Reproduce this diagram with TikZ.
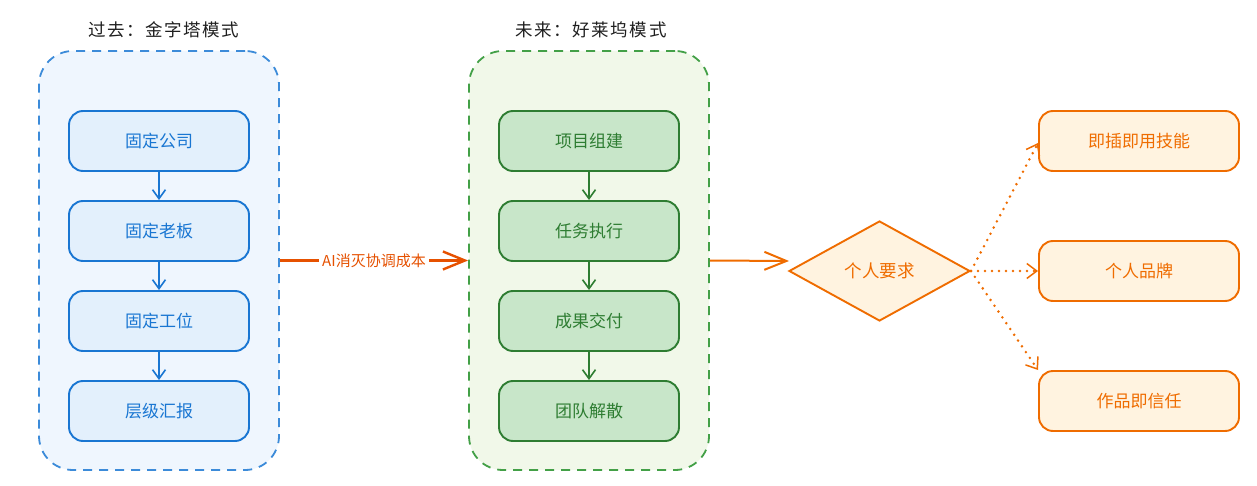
\documentclass[tikz,border=0pt]{standalone}
\usepackage{fontspec}
\setmainfont{Noto Sans CJK SC}
\newfontfamily\titlefont{Noto Sans CJK SC}[LetterSpace=9]
\usetikzlibrary{arrows.meta,shapes.geometric}
\definecolor{oldline}{HTML}{1976D2}
\definecolor{oldfill}{HTML}{E3F0FC}
\definecolor{oldback}{HTML}{EFF6FE}
\definecolor{newline}{HTML}{2E7D32}
\definecolor{newfill}{HTML}{C8E6C9}
\definecolor{newback}{HTML}{F1F8E9}
\definecolor{newdash}{HTML}{43A047}
\definecolor{selfline}{HTML}{EF6C00}
\definecolor{selffill}{HTML}{FFF3E0}
\definecolor{costline}{HTML}{E65100}
\tikzset{
  box/.style={rounded corners=14pt, line width=1.9pt, inner sep=0pt,
    minimum width=180pt, minimum height=60pt, font=\fontsize{17}{19}\selectfont},
  oldbox/.style={box, draw=oldline, fill=oldfill, text=oldline},
  newbox/.style={box, draw=newline, fill=newfill, text=newline},
  selfbox/.style={box, draw=selfline, fill=selffill, text=selfline, minimum width=200pt},
  frame/.style={rounded corners=34pt, line width=1.8pt, dash pattern=on 9pt off 7pt,
    minimum width=240pt, minimum height=419pt, inner sep=0pt},
  heading/.style={font=\titlefont\fontsize{17.5}{20}\selectfont, text=black!88},
  flow/.style={line width=1.6pt, -{Straight Barb[length=9pt,width=13pt]}},
  pick/.style={line width=2.8pt, selfline, line cap=round, dash pattern=on 0pt off 7pt,
    -{Straight Barb[length=10pt,width=15pt,line width=1.5pt]}}
}
\begin{document}
\begin{tikzpicture}[x=1pt,y=-1pt]
\useasboundingbox (0,0) rectangle (1257,486);
% containers
\node[frame, draw=oldline!85, fill=oldback] (past) at (159,260.5) {};
\node[frame, draw=newdash, fill=newback] (future) at (589,260.5) {};
\node[heading] (pasttitle) at (164,30) {过去：金字塔模式};
\node[heading] (futuretitle) at (591,30) {未来：好莱坞模式};
% past chain
\node[oldbox] (o1) at (159,141) {固定公司};
\node[oldbox] (o2) at (159,231) {固定老板};
\node[oldbox] (o3) at (159,321) {固定工位};
\node[oldbox] (o4) at (159,411) {层级汇报};
\path[draw, flow, oldline] (o1)--(o2);
\path[draw, flow, oldline] (o2)--(o3);
\path[draw, flow, oldline] (o3)--(o4);
% future chain
\node[newbox] (n1) at (589,141) {项目组建};
\node[newbox] (n2) at (589,231) {任务执行};
\node[newbox] (n3) at (589,321) {成果交付};
\node[newbox] (n4) at (589,411) {团队解散};
\path[draw, flow, newline] (n1)--(n2);
\path[draw, flow, newline] (n2)--(n3);
\path[draw, flow, newline] (n3)--(n4);
% between
\draw[line width=2.4pt, costline, -{Straight Barb[length=22pt,width=18pt]}] (past.east) -- (future.west)
  node[midway, fill=white, inner sep=3pt, text=costline, font=\fontsize{15}{17}\selectfont] (cost) {AI消灭协调成本};
\node[diamond, draw=selfline, fill=selffill, text=selfline, line width=1.9pt, inner sep=0pt,
  aspect=1.8, minimum width=181pt, minimum height=100pt, font=\fontsize{17.5}{19}\selectfont] (need) at (879.5,271) {个人要求};
\coordinate (needin) at (789,261);
\draw[line width=2pt, selfline, -{Straight Barb[length=22pt,width=18pt]}] (future.east) -- (needin);
% outcomes
\node[selfbox] (s1) at (1139,141) {即插即用技能};
\node[selfbox] (s2) at (1139,271) {个人品牌};
\node[selfbox] (s3) at (1139,401) {作品即信任};
\coordinate (s1in) at (1038,143);
\coordinate (s3in) at (1038,370);
\path[draw, pick] (need.east)--(s1in);
\path[draw, pick] (need.east)--(s2.west);
\path[draw, pick] (need.east)--(s3in);
\end{tikzpicture}
\end{document}
